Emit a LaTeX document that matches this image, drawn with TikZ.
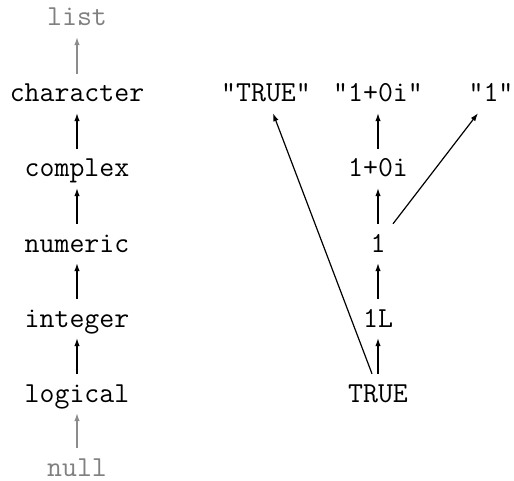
\documentclass[tikz,border=0pt]{standalone}
\usepackage{fontspec}
\usetikzlibrary{arrows.meta}
\begin{document}
\begin{tikzpicture}[x=1pt, y=-1pt,
    every node/.style={font=\fontsize{29}{34}\selectfont\ttfamily, anchor=base, inner sep=0pt, text height=28pt, text depth=11pt},
    up/.style={-{Latex[length=8pt,width=5.5pt]}, line width=1.2pt, draw=black},
    upgray/.style={up, draw=black!45},
    faded/.style={text=black!50}]
        \useasboundingbox (0,0) rectangle (514,481);
        % left column
        \node[faded] (list) at (77, 26) {list};
        \node (character) at (77, 102) {character};
        \node (complex) at (77, 177) {complex};
        \node (numeric) at (77, 252) {numeric};
        \node (integer) at (77, 327) {integer};
        \node (logical) at (77, 402) {logical};
        \node[faded, text depth=0pt] (null) at (77, 476) {null};
        \draw[upgray] (character) to (list);
        \draw[up] (complex) to (character);
        \draw[up] (numeric) to (complex);
        \draw[up] (integer) to (numeric);
        \draw[up] (logical) to (integer);
        \draw[upgray] (null) to (logical);

        % right column
        \node (strtrue) at (266, 102) {"TRUE"};
        \node (strcplx) at (378, 102) {"1+0i"};
        \node (strone) at (491, 102) {"1"};
        \node (cplx) at (378, 177) {1+0i};
        \node (one) at (378, 252) {1};
        \node (onel) at (378, 327) {1L};
        \node (true) at (378, 402) {TRUE};
        \draw[up] (true) to (onel);
        \draw[up] (onel) to (one);
        \draw[up] (one) to (cplx);
        \draw[up] (cplx) to (strcplx);
        \draw[up] ([xshift=-6pt]true.north) to ([xshift=7pt]strtrue.south);
        \draw[up] ([xshift=15pt]one.north) to ([xshift=-13pt]strone.south);
    \end{tikzpicture}
\end{document}
